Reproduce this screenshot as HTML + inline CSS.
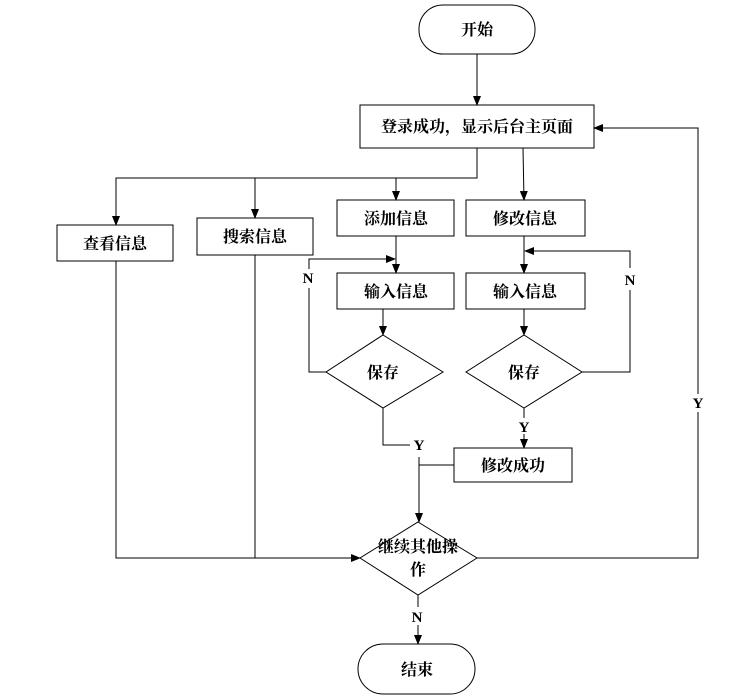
<!DOCTYPE html>
<html><head><meta charset="utf-8"><style>
html,body{margin:0;padding:0;background:#fff;}
svg{display:block;}
text{font-family:"Liberation Serif","Noto Serif CJK SC",serif;font-size:16px;font-weight:bold;fill:#000;}
.l{font-family:"Liberation Serif",serif;font-size:15px;font-weight:bold;}
</style></head><body>
<svg width="736" height="699" viewBox="0 0 736 699" xmlns="http://www.w3.org/2000/svg">
<defs><marker id="a" markerWidth="10" markerHeight="10" refX="9" refY="5" orient="auto" markerUnits="userSpaceOnUse"><path d="M0,1 L10,5 L0,9 z" fill="#000"/></marker></defs>
<g fill="none" stroke="#000" stroke-width="1">
<rect x="419" y="5" width="116" height="49" rx="24"/>
<rect x="360" y="105" width="234" height="43"/>
<rect x="57" y="225" width="116" height="36"/>
<rect x="197" y="218" width="116" height="37"/>
<rect x="337" y="200" width="117" height="36"/>
<rect x="466" y="200" width="119" height="36"/>
<rect x="337" y="273" width="117" height="36"/>
<rect x="466" y="273" width="119" height="36"/>
<rect x="454" y="448" width="118" height="34"/>
<path d="M383,335 L443,372 L383,408 L326,372 Z"/>
<path d="M524,335 L582,372 L524,408 L466,372 Z"/>
<path d="M418,522 L477,558 L418,595 L360,558 Z"/>
<rect x="358" y="644" width="117" height="50" rx="25"/>
<line x1="477" y1="54" x2="477" y2="105" marker-end="url(#a)"/>
<polyline points="477,148 477,178 116,178 116,225" marker-end="url(#a)"/>
<line x1="255" y1="178" x2="255" y2="218" marker-end="url(#a)"/>
<line x1="396" y1="178" x2="396" y2="200" marker-end="url(#a)"/>
<line x1="523" y1="148" x2="524" y2="200" marker-end="url(#a)"/>
<line x1="396" y1="236" x2="396" y2="273" marker-end="url(#a)"/>
<line x1="524" y1="236" x2="524" y2="273" marker-end="url(#a)"/>
<line x1="383" y1="309" x2="383" y2="335" marker-end="url(#a)"/>
<line x1="524" y1="309" x2="524" y2="335" marker-end="url(#a)"/>
<polyline points="326,372 309,372 309,288"/>
<polyline points="309,269 309,259 395,259" marker-end="url(#a)"/>
<polyline points="582,372 630,372 630,290"/>
<polyline points="630,268 630,251 525,251" marker-end="url(#a)"/>
<polyline points="383,408 383,445 410,445"/>
<line x1="524" y1="408" x2="524" y2="418"/>
<line x1="524" y1="434" x2="524" y2="448" marker-end="url(#a)"/>
<line x1="454" y1="465" x2="419" y2="465"/>
<line x1="419" y1="457" x2="419" y2="522" marker-end="url(#a)"/>
<polyline points="116,261 116,558 360,558" marker-end="url(#a)"/>
<line x1="255" y1="255" x2="255" y2="558"/>
<polyline points="477,558 698,558 698,412"/>
<polyline points="698,394 698,128 594,128" marker-end="url(#a)"/>
<line x1="418" y1="595" x2="418" y2="607"/>
<line x1="418" y1="625" x2="418" y2="644" marker-end="url(#a)"/>
</g>
<g text-anchor="middle">
<text x="477" y="35">开始</text>
<text x="477" y="132">登录成功，显示后台主页面</text>
<text x="115" y="249">查看信息</text>
<text x="255" y="242">搜索信息</text>
<text x="396" y="224">添加信息</text>
<text x="525" y="224">修改信息</text>
<text x="396" y="297">输入信息</text>
<text x="525" y="297">输入信息</text>
<text x="383" y="378">保存</text>
<text x="524" y="378">保存</text>
<text x="513" y="471">修改成功</text>
<text x="418" y="552">继续其他操</text>
<text x="418" y="575">作</text>
<text x="417" y="675">结束</text>
<text class="l" x="308" y="283">N</text>
<text class="l" x="630" y="285">N</text>
<text class="l" x="419" y="450">Y</text>
<text class="l" x="524" y="432">Y</text>
<text class="l" x="698" y="408">Y</text>
<text class="l" x="417" y="622">N</text>
</g>
</svg>
</body></html>
